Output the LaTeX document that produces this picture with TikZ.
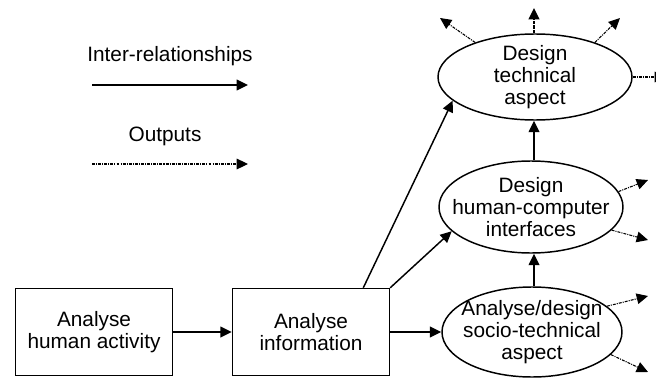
\documentclass[tikz,border=0pt]{standalone}
\usepackage{fontspec}
\setmainfont{Liberation Sans}
\usetikzlibrary{arrows.meta,shapes.geometric,calc}
\begin{document}
\begin{tikzpicture}[x=0.75pt,y=-0.75pt,
  font=\fontsize{15.6}{16.5}\selectfont,
  tip/.style={-{Triangle[length=8.5pt,width=8pt]}},
  rel/.style={tip,line width=1.1pt},
  outp/.style={tip,line width=0.8pt,dash pattern=on 2.2pt off 0.8pt on 0.8pt off 0.8pt},
  procbox/.style={draw,line width=1.1pt,minimum width=117.75pt,minimum height=65.25pt,align=center,inner sep=0pt},
  stage/.style={draw,ellipse,line width=1.1pt,align=center,inner xsep=-30pt,inner ysep=-15pt}]
\useasboundingbox (0,0) rectangle (656,378);

% legend
\node (lrel) at (170,56) {Inter-relationships};
\coordinate (lrelA) at (92,85);
\coordinate (lrelB) at (248,85);
\draw[rel] (lrelA) -- (lrelB);
\node (lout) at (165,136) {Outputs};
\coordinate (loutA) at (92,164);
\coordinate (loutB) at (248,164);
\draw[outp] (loutA) -- (loutB);

% analysis boxes
\node[procbox] (b1) at (94,332) {Analyse\\human activity};
\node[procbox] (b2) at (311,332) {Analyse\\information};

% design stages
\node[stage,minimum width=145.5pt,minimum height=64.5pt] (e1) at (535,77) {Design\\technical\\aspect};
\node[stage,minimum width=138pt,minimum height=69pt] (e2) at (531,207) {Design\\human-computer\\interfaces};
\node[stage,minimum width=135pt,minimum height=67.5pt] (e3) at (532,332) {Analyse/design\\socio-technical\\aspect};

% inter-relationships
\draw[rel] (b1.east) -- (b2.west);
\draw[rel] (b2.east) -- (e3.west |- b2.east);
\draw[rel] ($(b2.north west)!0.83!(b2.north east)$) -- (e1.196);
\draw[rel] (b2.north east) -- (e2.197);
\draw[rel] (e3.north -| 534,0) -- (e2.south -| 534,0);
\draw[rel] (e2.north -| 534,0) -- (e1.south -| 534,0);

% outputs
\coordinate (o1) at (440,18);
\coordinate (o2) at (534,8);
\coordinate (o3) at (620,18);
\coordinate (o4) at (666,77);
\coordinate (o5) at (648,180);
\coordinate (o6) at (648,240);
\coordinate (o7) at (648,296);
\coordinate (o8) at (648,372);
\draw[outp] (e1.150) -- (o1);
\draw[outp,line width=1.2pt,dash pattern=on 2.5pt off 1pt] (e1.north -| o2) -- (o2);
\draw[outp] (e1.30) -- (o3);
\draw[outp] (e1.east) -- (o4);
\draw[outp] (e2.10) -- (o5);
\draw[outp] (e2.-16) -- (o6);
\draw[outp] (e3.19) -- (o7);
\draw[outp] (e3.-16) -- (o8);
\end{tikzpicture}
\end{document}
